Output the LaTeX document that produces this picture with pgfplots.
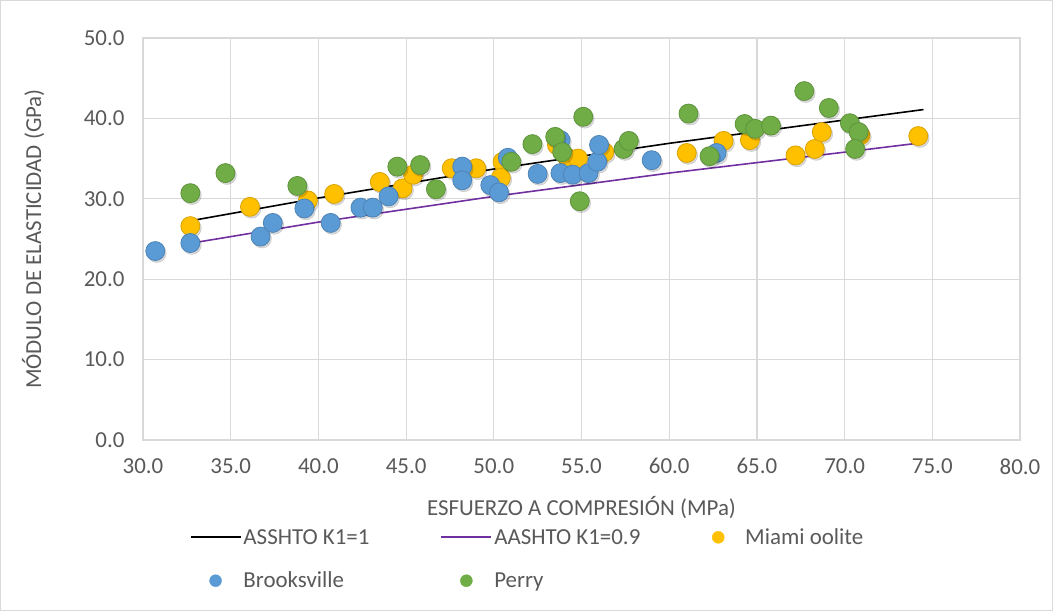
\documentclass[border=0pt]{standalone}
\usepackage{pgfplots}
\usepackage{pgfplotstable}
\pgfplotsset{compat=1.18}
\usepackage{fontspec}
\setmainfont{Carlito}
\definecolor{cyel}{HTML}{FFC000}
\definecolor{cblu}{HTML}{5B9BD5}
\definecolor{cgrn}{HTML}{70AD47}
\definecolor{cpur}{HTML}{7030A0}
\definecolor{cgrid}{HTML}{D9D9D9}
\definecolor{ctxt}{HTML}{595959}
\pgfplotstableread{
x y
32.7 26.6
36.1 29.0
39.4 29.8
40.9 30.6
43.5 32.1
44.8 31.3
45.4 33.0
47.6 33.8
49.0 33.8
50.5 34.6
50.4 32.6
53.6 36.7
54.2 35.1
54.8 35.0
56.3 35.8
61.0 35.7
63.1 37.2
64.6 37.3
67.2 35.4
68.3 36.2
68.7 38.3
70.9 37.9
74.2 37.8
}\miami
\pgfplotstableread{
x y
30.7 23.5
32.7 24.5
36.7 25.3
37.4 27.0
39.2 28.8
40.7 27.0
42.4 28.9
43.1 28.9
44.0 30.3
48.2 34.0
48.2 32.3
49.8 31.7
50.3 30.8
50.8 35.1
52.5 33.1
53.8 37.3
53.8 33.2
54.5 33.0
55.4 33.2
55.9 34.6
56.0 36.7
59.0 34.8
62.7 35.7
}\brooks
\pgfplotstableread{
x y
32.7 30.7
34.7 33.2
38.8 31.6
44.5 34.0
45.8 34.2
46.7 31.2
51.0 34.6
52.2 36.8
53.5 37.7
53.9 35.8
55.1 40.2
54.9 29.7
57.4 36.2
57.7 37.2
61.1 40.6
62.3 35.3
64.3 39.3
64.9 38.7
65.8 39.1
67.7 43.4
69.1 41.3
70.3 39.4
70.8 38.3
70.6 36.2
}\perry
\begin{document}
\begin{tikzpicture}
\draw[cgrid, line width=1bp] (0.5bp,0.5bp) rectangle (1052.5bp,610.5bp);
\begin{axis}[
  at={(143bp,171bp)}, anchor=south west,
  scale only axis, width=877bp, height=402bp,
  xmin=30, xmax=80, ymin=0, ymax=50,
  xtick distance=5, ytick distance=10,
  grid=major, major grid style={draw=cgrid, line width=1.2bp},
  axis line style={draw=cgrid, line width=1.2bp},
  major tick length=0,
  tick label style={text=ctxt, font=\fontsize{23}{27}\selectfont},
  xticklabel style={yshift=-15bp},
  yticklabel style={xshift=-15bp},
  /pgf/number format/.cd, fixed, fixed zerofill, precision=1, assume math mode=true, /pgfplots/.cd,
  xlabel={ESFUERZO A COMPRESIÓN (MPa)},
  ylabel={MÓDULO DE ELASTICIDAD (GPa)},
  label style={text=ctxt, font=\fontsize{23}{27}\selectfont},
  xlabel style={at={(axis description cs:0.5,0)}, anchor=center, yshift=-68bp},
  ylabel style={at={(axis description cs:-0.1254,0.5)}, anchor=center, rotate=0},
  legend columns=3,
  legend style={at={(axis description cs:0.053,-0.215)}, anchor=north west, draw=none, fill=none,
    font=\fontsize{23}{27}\selectfont, text=ctxt, inner sep=0pt, row sep=22bp},
  legend cell align=left,
  legend image code/.code={\path[draw=none, fill=none] (0bp,-1bp) rectangle (50bp,1bp);\draw[mark repeat=2,mark phase=2,#1] plot coordinates {(0bp,0bp) (25bp,0bp) (50bp,0bp)};},
  shadow/.style={only marks, mark=*, mark size=9.5bp, forget plot, mark options={xshift=1.5bp, yshift=-2bp, fill=black, draw=none, opacity=0.15}},
]
\addlegendimage{black, line width=1.8bp, no marks}
\addlegendentry{\makebox[195bp][l]{ASSHTO K1=1}}
\addlegendimage{cpur, line width=1.8bp, no marks}
\addlegendentry{\makebox[197bp][l]{AASHTO K1=0.9}}
\addlegendimage{only marks, mark=*, mark size=6bp, mark options={fill=cyel, draw=cyel}}
\addlegendentry{Miami oolite}
\addlegendimage{only marks, mark=*, mark size=6bp, mark options={fill=cblu, draw=cblu}}
\addlegendentry{\makebox[195bp][l]{Brooksville}}
\addlegendimage{only marks, mark=*, mark size=6bp, mark options={fill=cgrn, draw=cgrn}}
\addlegendentry{\makebox[197bp][l]{Perry}}
\addplot[black, line width=1.6bp, no marks, forget plot] coordinates {(32.8,27.3) (40,30.1) (50,33.7) (60,36.9) (70,39.8) (74.5,41.1)};
\addplot[cpur, line width=1.6bp, no marks, forget plot] coordinates {(32.8,24.5) (40,27.1) (50,30.3) (60,33.2) (70,35.8) (74.5,37.0)};
\addplot[shadow] table {\miami};
\addplot[only marks, mark=*, mark size=9.5bp, forget plot, mark options={fill=cyel, draw=cyel!85!black, line width=0.8bp}] table {\miami};
\addplot[shadow] table {\brooks};
\addplot[only marks, mark=*, mark size=9.5bp, forget plot, mark options={fill=cblu, draw=cblu!85!black, line width=0.8bp}] table {\brooks};
\addplot[shadow] table {\perry};
\addplot[only marks, mark=*, mark size=9.5bp, forget plot, mark options={fill=cgrn, draw=cgrn!85!black, line width=0.8bp}] table {\perry};
\end{axis}
\end{tikzpicture}
\end{document}
